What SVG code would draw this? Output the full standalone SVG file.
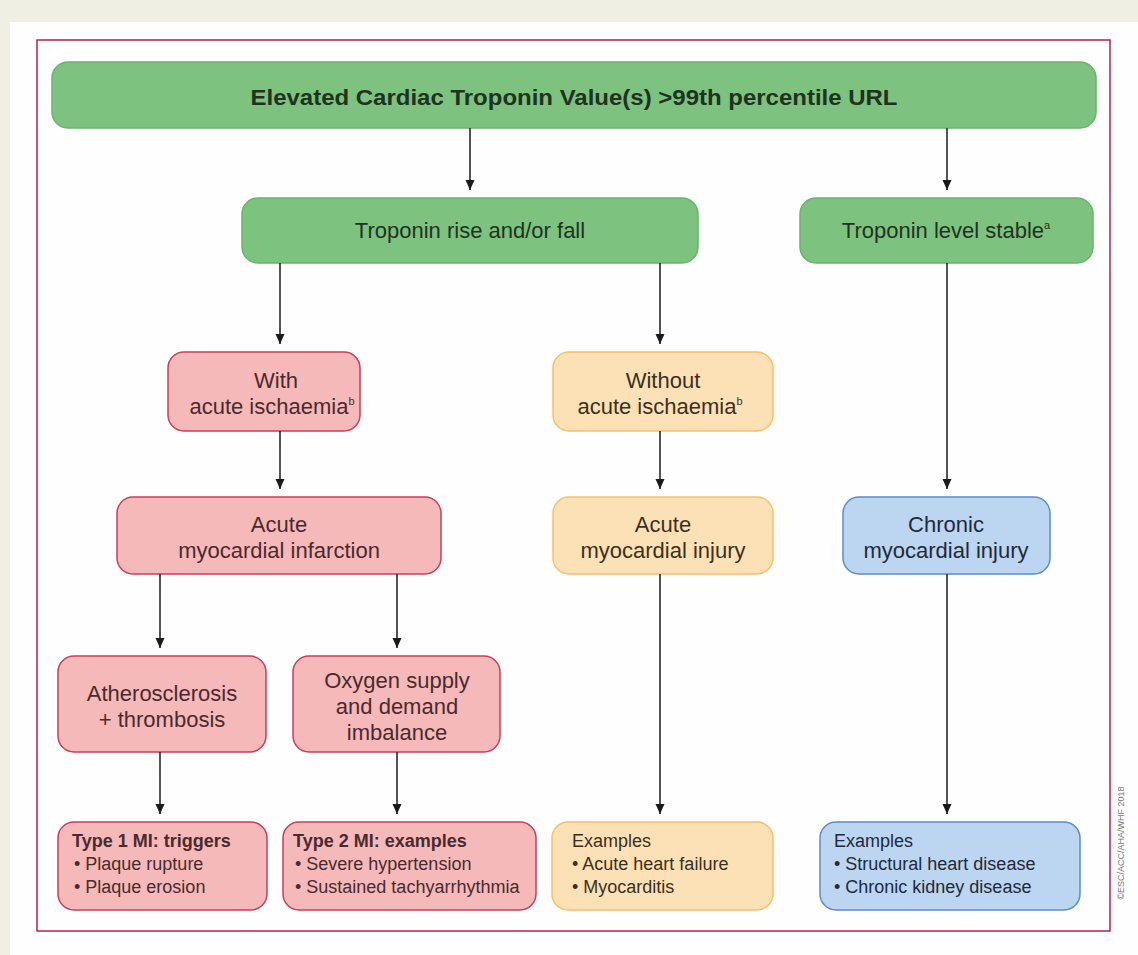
<svg xmlns="http://www.w3.org/2000/svg" width="1138" height="955" viewBox="0 0 1138 955">
<defs>
<marker id="ah" viewBox="0 0 10 10" refX="10" refY="5" markerWidth="10" markerHeight="10" markerUnits="userSpaceOnUse" orient="auto">
<path d="M0,0.5 L10,5 L0,9.5 Z" fill="#1a1a1a"/>
</marker>
<style>
.green{fill:#7dc27f;stroke:#6ab36d;stroke-width:1.5}
.pink{fill:#f5b9b9;stroke:#c63f5a;stroke-width:1.5}
.orange{fill:#fde1b6;stroke:#f5c06a;stroke-width:1.5}
.blue{fill:#bcd5f1;stroke:#5a8dc6;stroke-width:1.5}
.t{font-family:"Liberation Sans",Arial,sans-serif;font-size:22px;text-anchor:middle}
.tg{fill:#1f331f}
.tp{fill:#4a2a2e}
.to{fill:#3a3020}
.tb{fill:#1f2a3a}
.s{font-family:"Liberation Sans",Arial,sans-serif;font-size:18px}
.sup{font-size:11px}
.conn line{stroke:#1a1a1a;stroke-width:1.5;marker-end:url(#ah)}
</style>
</defs>
<rect x="0" y="0" width="1138" height="955" fill="#efefe4"/>
<rect x="10" y="22" width="1128" height="933" fill="#fefefe"/>
<rect x="37" y="40" width="1073" height="891" fill="none" stroke="#b3224e" stroke-width="1.5"/>

<g id="n-top">
<rect class="green" x="52" y="62" width="1044" height="66" rx="16"/>
<text class="t tg" x="574" y="105" font-weight="bold" font-size="23" textLength="647" lengthAdjust="spacingAndGlyphs">Elevated Cardiac Troponin Value(s) &gt;99th percentile URL</text>
</g>
<g id="n-rise">
<rect class="green" x="242" y="198" width="456" height="65" rx="16"/>
<text class="t tg" x="470" y="238">Troponin rise and/or fall</text>
</g>
<g id="n-stable">
<rect class="green" x="800" y="198" width="293" height="65" rx="16"/>
<text class="t tg" x="946" y="238">Troponin level stable<tspan class="sup" dy="-9">a</tspan></text>
</g>
<g id="n-with">
<rect class="pink" x="168" y="352" width="192" height="79" rx="16"/>
<text class="t tp" x="276" y="388">With</text>
<text class="t tp" x="272" y="414" font-size="21">acute ischaemia<tspan class="sup" dy="-9">b</tspan></text>
</g>
<g id="n-without">
<rect class="orange" x="553" y="352" width="220" height="79" rx="16"/>
<text class="t to" x="663" y="388">Without</text>
<text class="t to" x="660" y="414">acute ischaemia<tspan class="sup" dy="-9">b</tspan></text>
</g>
<g id="n-ami">
<rect class="pink" x="117" y="497" width="324" height="77" rx="16"/>
<text class="t tp" x="279" y="532">Acute</text>
<text class="t tp" x="279" y="558">myocardial infarction</text>
</g>
<g id="n-acute-injury">
<rect class="orange" x="553" y="497" width="220" height="77" rx="16"/>
<text class="t to" x="663" y="532">Acute</text>
<text class="t to" x="663" y="558">myocardial injury</text>
</g>
<g id="n-chronic">
<rect class="blue" x="843" y="497" width="207" height="77" rx="16"/>
<text class="t tb" x="946" y="532">Chronic</text>
<text class="t tb" x="946" y="558">myocardial injury</text>
</g>
<g id="n-athero">
<rect class="pink" x="58" y="656" width="208" height="96" rx="16"/>
<text class="t tp" x="162" y="701">Atherosclerosis</text>
<text class="t tp" x="162" y="727">+ thrombosis</text>
</g>
<g id="n-oxygen">
<rect class="pink" x="293" y="656" width="207" height="96" rx="16"/>
<text class="t tp" x="397" y="688">Oxygen supply</text>
<text class="t tp" x="397" y="714">and demand</text>
<text class="t tp" x="397" y="740">imbalance</text>
</g>
<g id="n-type1">
<rect class="pink" x="58" y="822" width="209" height="88" rx="16"/>
<text class="s tp" x="72" y="847"><tspan font-weight="bold">Type 1 MI: triggers</tspan></text>
<text class="s tp" x="74" y="870">• Plaque rupture</text>
<text class="s tp" x="74" y="893">• Plaque erosion</text>
</g>
<g id="n-type2">
<rect class="pink" x="283" y="822" width="253" height="88" rx="16"/>
<text class="s tp" x="293" y="847"><tspan font-weight="bold">Type 2 MI: examples</tspan></text>
<text class="s tp" x="295" y="870">• Severe hypertension</text>
<text class="s tp" x="295" y="893">• Sustained tachyarrhythmia</text>
</g>
<g id="n-ex-orange">
<rect class="orange" x="552" y="822" width="221" height="88" rx="16"/>
<text class="s to" x="572" y="847">Examples</text>
<text class="s to" x="572" y="870">• Acute heart failure</text>
<text class="s to" x="572" y="893">• Myocarditis</text>
</g>
<g id="n-ex-blue">
<rect class="blue" x="820" y="822" width="260" height="88" rx="16"/>
<text class="s tb" x="834" y="847">Examples</text>
<text class="s tb" x="834" y="870">• Structural heart disease</text>
<text class="s tb" x="834" y="893">• Chronic kidney disease</text>
</g>

<g id="connectors" class="conn">
<line x1="470" y1="128" x2="470" y2="190"/>
<line x1="947" y1="128" x2="947" y2="190"/>
<line x1="280" y1="263" x2="280" y2="344"/>
<line x1="660" y1="263" x2="660" y2="344"/>
<line x1="947" y1="263" x2="947" y2="489"/>
<line x1="280" y1="431" x2="280" y2="489"/>
<line x1="660" y1="431" x2="660" y2="489"/>
<line x1="160" y1="574" x2="160" y2="648"/>
<line x1="397" y1="574" x2="397" y2="648"/>
<line x1="160" y1="752" x2="160" y2="814"/>
<line x1="397" y1="752" x2="397" y2="814"/>
<line x1="660" y1="574" x2="660" y2="814"/>
<line x1="947" y1="574" x2="947" y2="814"/>
</g>

<text x="1124" y="843" transform="rotate(-90 1124 843)" font-family="Liberation Sans,Arial,sans-serif" font-size="9" fill="#777" text-anchor="middle">©ESC/ACC/AHA/WHF 2018</text>
</svg>
